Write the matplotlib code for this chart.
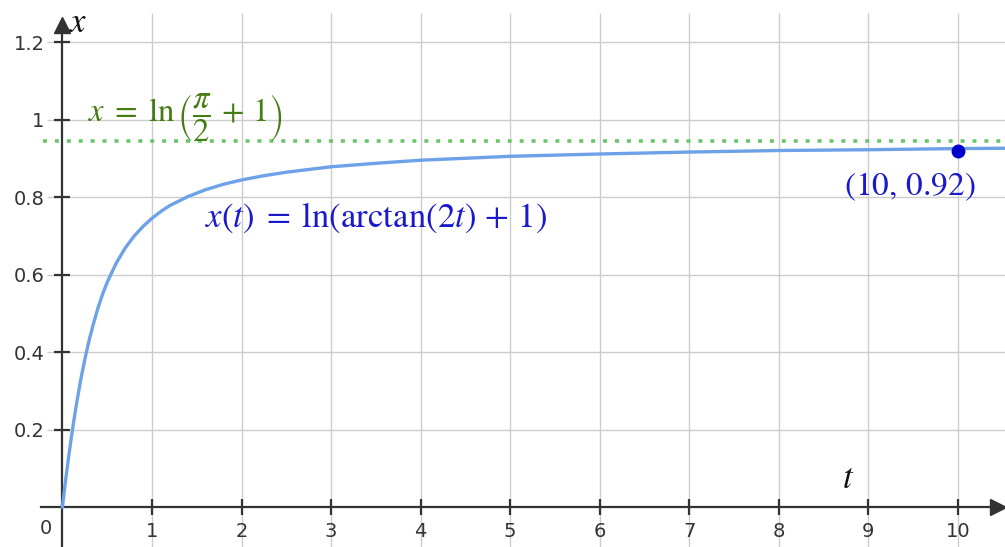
import matplotlib.pyplot as plt
import matplotlib

# values
t_vals = [0, 0.025, 0.05, 0.075, 0.1, 0.125, 0.15, 0.2, 0.25, 0.3, 0.35, 0.4, 0.45, 0.5, 0.6,
          0.7, 0.8, 0.9, 1.0, 1.1, 1.2, 1.4, 1.6, 1.8, 2.0, 2.25, 2.5, 3.0, 3.5, 4.0, 5.0, 6.0,
          7.0, 8.0, 9.0, 10.0, 10.6]
x_vals = [0, 0.049, 0.095, 0.139, 0.180, 0.219, 0.256, 0.323, 0.381, 0.432, 0.476, 0.516,
          0.550, 0.580, 0.629, 0.668, 0.699, 0.724, 0.745, 0.763, 0.778, 0.801, 0.819, 0.833,
          0.844, 0.855, 0.864, 0.878, 0.887, 0.895, 0.905, 0.911, 0.916, 0.920, 0.922, 0.925,
          0.926]
asymptote = 0.944
point = (10, 0.92)

x_ticks = [1, 2, 3, 4, 5, 6, 7, 8, 9, 10]
x_tick_labels = ['1', '2', '3', '4', '5', '6', '7', '8', '9', '10']
y_ticks = [0.2, 0.4, 0.6, 0.8, 1.0, 1.2]
y_tick_labels = ['0.2', '0.4', '0.6', '0.8', '1', '1.2']

matplotlib.rcParams.update({'mathtext.fontset': 'stix'})

fig = plt.figure(figsize=(10.05, 5.47), dpi=100)
ax = fig.add_axes([0, 0, 1, 1])
ax.set_xlim(-0.697, 10.525)
ax.set_ylim(-0.1032, 1.3084)

axis_col = '#333333'

# grid
ax.vlines(x_ticks, -0.1032, 1.275, color='#cccccc', linewidth=1, zorder=0)
ax.hlines(y_ticks, -0.17, 10.525, color='#cccccc', linewidth=1, zorder=0)

# axes through origin
for s in ['top', 'right']:
    ax.spines[s].set_visible(False)
ax.spines['left'].set_position(('data', 0))
ax.spines['bottom'].set_position(('data', 0))
ax.spines['left'].set_bounds(-0.1032, 1.25)
ax.spines['bottom'].set_bounds(-0.24, 10.45)
for s in ['left', 'bottom']:
    ax.spines[s].set_color(axis_col)
    ax.spines[s].set_linewidth(1.6)
ax.plot([0], [1.245], marker='^', markersize=11, color=axis_col, clip_on=False, zorder=5)
ax.plot([10.45], [0], marker='>', markersize=11, color=axis_col, clip_on=False, zorder=5)

ax.set_xticks(x_ticks, x_tick_labels)
ax.set_yticks(y_ticks, y_tick_labels)
ax.tick_params(direction='inout', length=11.5, width=1.6, color=axis_col,
               labelcolor=axis_col, labelsize=14)
ax.tick_params(axis='y', pad=7)
ax.tick_params(axis='x', pad=5)
ax.text(-0.19, -0.055, '0', ha='center', va='center', fontsize=14, color=axis_col)

# axis names
ax.text(0.075, 1.252, r'$x$', fontsize=25, ha='left', va='center', color='#111111')
ax.text(8.77, 0.075, r'$t$', fontsize=25, ha='center', va='center', color='#111111')

# asymptote
ax.plot([-0.22, 10.525], [asymptote, asymptote], color='#6cc56c', linewidth=2.6,
        linestyle=(0, (1.1, 2.2)), dash_capstyle='butt', zorder=1)
ax.text(0.285, 1.005, r'$x\;=\;\ln\left(\dfrac{\pi}{2}\,+\,1\right)$', fontsize=23.5,
        color='#467d12', ha='left', va='center')

# curve
ax.plot(t_vals, x_vals, color='#6ea2e8', linewidth=2.4, zorder=3)
ax.text(1.59, 0.746, r'$x(t)\;=\;\ln(\arctan(2t)\,+\,1)$', fontsize=25, color='#1a1acc',
        ha='left', va='center')

# marked point
ax.plot([point[0]], [point[1]], 'o', color='#0000cc', markersize=9, zorder=4)
ax.text(9.46, 0.826, r'$(10,\,0.92)$', fontsize=24, color='#1a1acc', ha='center', va='center')

fig.savefig('out.png', dpi=100)
